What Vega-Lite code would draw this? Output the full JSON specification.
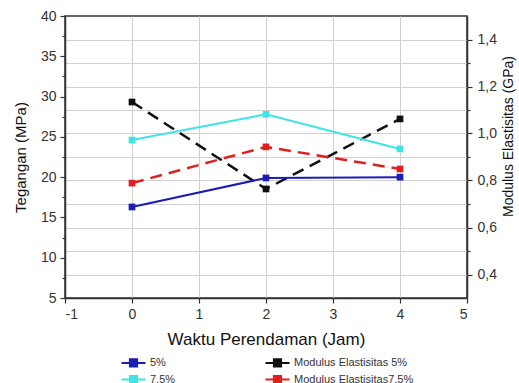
{
  "$schema": "https://vega.github.io/schema/vega-lite/v6.json",
  "width": 402,
  "height": 282,
  "autosize": "none",
  "padding": {"left": 65, "top": 16, "right": 52, "bottom": 85},
  "background": "white",
  "config": {
    "font": "Liberation Sans",
    "view": {"stroke": "#333", "strokeWidth": 1.5},
    "axis": {
      "domainColor": "#333",
      "domainWidth": 1.5,
      "tickColor": "#333",
      "tickWidth": 1.2,
      "labelColor": "#333",
      "labelFont": "Liberation Sans",
      "labelFontSize": 13,
      "titleFont": "Liberation Sans",
      "titleFontWeight": "normal",
      "titleColor": "#111",
      "gridColor": "#d0d0d0",
      "gridWidth": 1
    }
  },
  "datasets": {
    "tegangan": [
      {"t": 0, "series": "5%", "value": 16.3},
      {"t": 2, "series": "5%", "value": 19.9},
      {"t": 4, "series": "5%", "value": 20.0},
      {"t": 0, "series": "7,5%", "value": 24.6},
      {"t": 2, "series": "7,5%", "value": 27.8},
      {"t": 4, "series": "7,5%", "value": 23.5}
    ],
    "modulus": [
      {"t": 0, "series": "Modulus Elastisitas 5%", "value": 1.134},
      {"t": 2, "series": "Modulus Elastisitas 5%", "value": 0.764},
      {"t": 4, "series": "Modulus Elastisitas 5%", "value": 1.062},
      {"t": 0, "series": "Modulus Elastisitas7,5%", "value": 0.789},
      {"t": 2, "series": "Modulus Elastisitas7,5%", "value": 0.943},
      {"t": 4, "series": "Modulus Elastisitas7,5%", "value": 0.849}
    ]
  },
  "layer": [
    {
      "data": {"name": "modulus"},
      "mark": {"type": "line", "strokeWidth": 2.5, "strokeDash": [12, 7], "point": {"shape": "square", "filled": true, "size": 45, "opacity": 1}},
      "encoding": {
        "x": {
          "field": "t", "type": "quantitative",
          "scale": {"domain": [-1, 5], "nice": false, "zero": false},
          "axis": {
            "title": "Waktu Perendaman (Jam)",
            "titleFontSize": 17,
            "titlePadding": 10,
            "values": [-1, -0.5, 0, 0.5, 1, 1.5, 2, 2.5, 3, 3.5, 4, 4.5, 5],
            "labelExpr": "datum.value % 1 == 0 ? ('' + datum.value) : ''",
            "labelPadding": 4,
            "grid": true,
            "gridOpacity": {"condition": {"test": "datum.value % 1 != 0", "value": 0}, "value": 1},
            "tickSize": {"condition": {"test": "datum.value % 1 != 0", "value": 3}, "value": 5},
            "labelFontSize": 14
          }
        },
        "y": {
          "field": "value", "type": "quantitative",
          "scale": {"domain": [0.3, 1.5], "nice": false, "zero": false},
          "axis": {
            "orient": "right",
            "title": "Modulus Elastisitas (GPa)",
            "titleFontSize": 14,
            "titleAngle": 270,
            "titleBaseline": "top",
            "titlePadding": 5,
            "titleY": 120,
            "values": [0.4, 0.5, 0.6, 0.7, 0.8, 0.9, 1.0, 1.1, 1.2, 1.3, 1.4],
            "labelExpr": "round(datum.value * 10) % 2 == 0 ? replace(format(datum.value, '.1f'), '.', ',') : ''",
            "grid": true,
            "tickSize": {"condition": {"test": "round(datum.value * 10) % 2 != 0", "value": 3}, "value": 5},
            "labelPadding": 5,
            "labelFontSize": 14
          }
        },
        "color": {
          "field": "series", "type": "nominal",
          "scale": {
            "domain": ["5%", "7,5%", "Modulus Elastisitas 5%", "Modulus Elastisitas7,5%"],
            "range": ["#1c1cb8", "#40e4e4", "#111111", "#e02020"]
          },
          "legend": {
            "title": null,
            "orient": "none",
            "legendX": 55,
            "legendY": 341,
            "columns": 2,
            "gridAlign": "each",
            "columnPadding": 85,
            "rowPadding": 0,
            "padding": 0,
            "labelFontSize": 11,
            "labelColor": "#333",
            "labelOffset": 19,
            "symbolType": "M-1,0H5M1.1,-0.9H2.9V0.9H1.1Z",
            "symbolSize": 64,
            "symbolStrokeWidth": 2,
            "symbolDash": [],
            "symbolOpacity": 1
          }
        }
      }
    },
    {
      "data": {"name": "tegangan"},
      "mark": {"type": "line", "strokeWidth": 2, "point": {"shape": "square", "filled": true, "size": 45, "opacity": 1}},
      "encoding": {
        "x": {"field": "t", "type": "quantitative"},
        "y": {
          "field": "value", "type": "quantitative",
          "scale": {"domain": [5, 40], "nice": false, "zero": false},
          "axis": {
            "orient": "left",
            "title": "Tegangan (MPa)",
            "titleFontSize": 15,
            "titlePadding": 12,
            "values": [5, 7.5, 10, 12.5, 15, 17.5, 20, 22.5, 25, 27.5, 30, 32.5, 35, 37.5, 40],
            "labelExpr": "datum.value % 5 == 0 ? datum.label : ''",
            "grid": false,
            "labelFontSize": 14,
            "tickSize": {"condition": {"test": "datum.value % 5 != 0", "value": 3}, "value": 5},
            "labelPadding": 4
          }
        },
        "color": {"field": "series", "type": "nominal"}
      }
    }
  ],
  "resolve": {"scale": {"y": "independent"}}
}
